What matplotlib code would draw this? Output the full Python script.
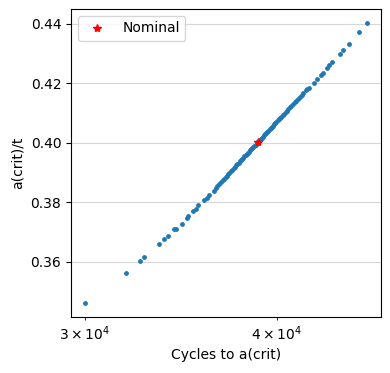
import matplotlib
matplotlib.use("Agg")
import matplotlib.pyplot as plt

# Monte Carlo samples: cycles to critical crack size vs a(crit)/t
cycles = [
    30000, 31884, 32593, 32787, 33531, 33784, 33989, 34312, 34400, 34677,
    34953, 35000, 35304, 35420, 35551, 35873, 36020, 36144, 36397, 36510,
    36590, 36696, 36785, 36877, 36952, 37045, 37106, 37182, 37259, 37352,
    37429, 37491, 37570, 37648, 37711, 37787, 37850, 37912, 37990, 38052,
    38114, 38180, 38243, 38305, 38371, 38433, 38495, 38561, 38624, 38686,
    38752, 38814, 38860, 38927, 38993, 39059, 39122, 39188, 39250, 39316,
    39382, 39444, 39511, 39577, 39643, 39709, 39775, 39857, 39923, 39989,
    40071, 40137, 40222, 40288, 40370, 40456, 40538, 40623, 40705, 40806,
    40892, 40993, 41094, 41199, 41300, 41420, 41541, 41642, 41779, 41868,
    41988, 42306, 42519, 42768, 42860, 43116, 43300, 43464, 43985, 44183,
    44607, 45259, 45782,
]
acrit_t = [
    0.3462, 0.3563, 0.3603, 0.3617, 0.3660, 0.3677, 0.3687, 0.3709, 0.3711, 0.3728,
    0.3748, 0.3752, 0.3769, 0.3777, 0.3789, 0.3806, 0.3814, 0.3824, 0.3839, 0.3847,
    0.3855, 0.3862, 0.3868, 0.3874, 0.3879, 0.3885, 0.3889, 0.3894, 0.3899, 0.3905,
    0.3910, 0.3914, 0.3919, 0.3924, 0.3928, 0.3933, 0.3937, 0.3941, 0.3946, 0.3950,
    0.3954, 0.3958, 0.3962, 0.3966, 0.3970, 0.3974, 0.3978, 0.3982, 0.3986, 0.3990,
    0.3994, 0.3998, 0.4001, 0.4005, 0.4009, 0.4013, 0.4017, 0.4021, 0.4025, 0.4029,
    0.4033, 0.4037, 0.4041, 0.4045, 0.4049, 0.4053, 0.4057, 0.4062, 0.4066, 0.4070,
    0.4075, 0.4079, 0.4084, 0.4088, 0.4093, 0.4098, 0.4103, 0.4108, 0.4113, 0.4119,
    0.4124, 0.4130, 0.4136, 0.4142, 0.4148, 0.4155, 0.4162, 0.4168, 0.4176, 0.4181,
    0.4185, 0.4202, 0.4213, 0.4229, 0.4233, 0.4252, 0.4262, 0.4271, 0.4299, 0.4313,
    0.4333, 0.4373, 0.4403,
]

# nominal case
nominal_cycles = 38896
nominal_acrit = 0.4003

fig, ax = plt.subplots(figsize=(3.9, 3.73), dpi=100)
fig.subplots_adjust(left=0.182, right=0.976, top=0.976, bottom=0.151)

ax.scatter(cycles, acrit_t, s=6, color="#1f77b4", zorder=3)
ax.plot(nominal_cycles, nominal_acrit, "r*", markersize=6, label="Nominal", zorder=4)

ax.set_xscale("log")
ax.set_xlabel("Cycles to a(crit)")
ax.set_ylabel("a(crit)/t")
ax.grid(axis="y", alpha=0.5)
ax.set_axisbelow(True)
ax.legend(loc="upper left")

fig.savefig("out.png", dpi=100)
